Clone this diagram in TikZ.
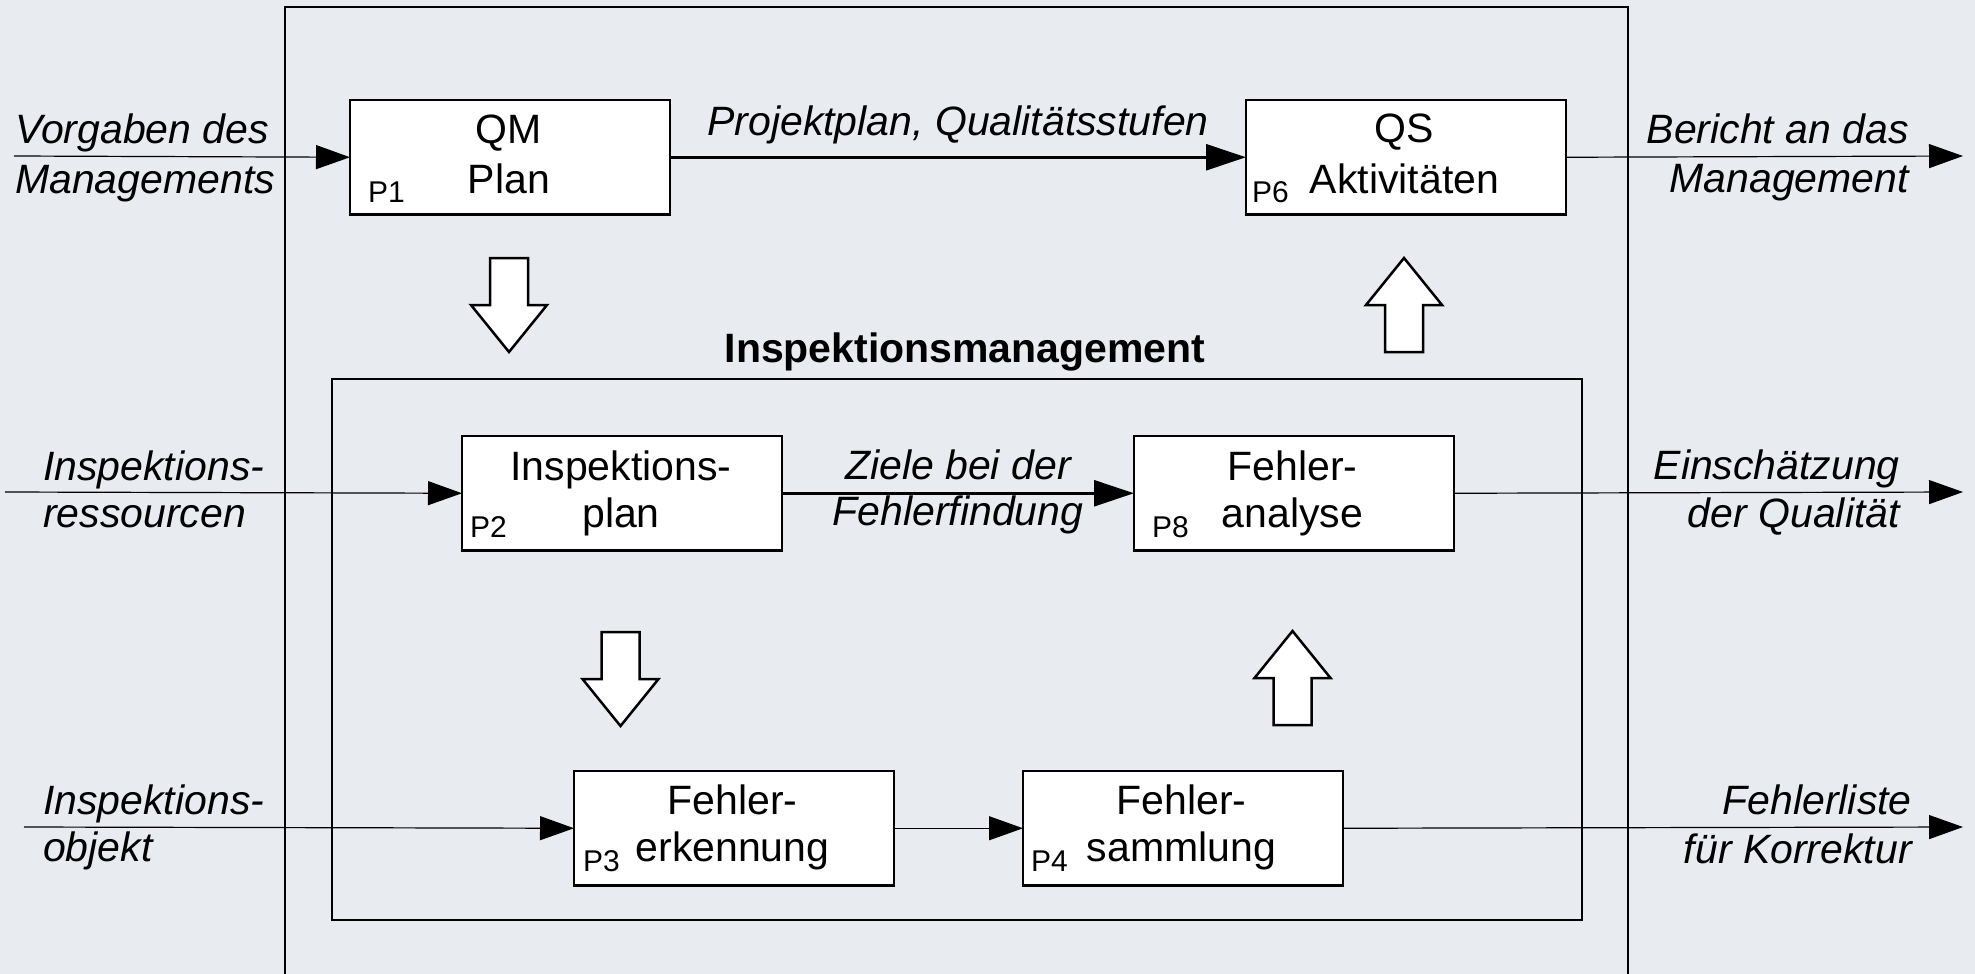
\documentclass[tikz,border=0pt]{standalone}
\usepackage{fontspec}
\setmainfont{Liberation Sans}
\usetikzlibrary{arrows.meta,calc}
\definecolor{bgc}{RGB}{232,236,241}
\begin{document}
\begin{tikzpicture}[x=1pt,y=-1pt,
  box/.style={draw,line width=2.5pt,fill=white,minimum width=317.5pt,minimum height=112pt,inner sep=0pt,anchor=north west},
  frame/.style={draw,line width=2.5pt},
  txt/.style={inner sep=0pt,font=\fontsize{41}{48}\selectfont},
  itxt/.style={inner sep=0pt,font=\fontsize{41}{48}\selectfont\itshape},
  btxt/.style={inner sep=0pt,font=\fontsize{41}{48}\selectfont\bfseries},
  ptxt/.style={inner sep=0pt,font=\fontsize{30}{36}\selectfont,anchor=base west},
  thinarrow/.style={line width=1.2pt,-{Triangle[length=34pt,width=24pt]}},
  thickarrow/.style={line width=2.5pt,-{Triangle[length=40pt,width=26pt]}},
  blk/.style={draw,fill=white,line width=2.5pt,line join=miter},
  downarrow/.pic={\draw[blk] (-19,0) -- (19,0) -- (19,47) -- (38,47) -- (0,94) -- (-38,47) -- (-19,47) -- cycle;},
  uparrow/.pic={\draw[blk] (-19,94) -- (19,94) -- (19,47) -- (38,47) -- (0,0) -- (-38,47) -- (-19,47) -- cycle;}
]
\useasboundingbox (0,0) rectangle (1975,974);
\fill[bgc] (0,0) rectangle (1975,974);

% frames
\draw[frame] (285,985) -- (285,7) -- (1628,7) -- (1628,985);
\draw[frame] (332,379) rectangle (1582,920);
\node[btxt,anchor=base] (title) at (965,362) {Inspektionsmanagement};

% endpoints
\coordinate (i1) at (14,156);
\coordinate (i2) at (5,492);
\coordinate (i3) at (24,827);
\coordinate (o1) at (1963,156);
\coordinate (o2) at (1963,492);
\coordinate (o3) at (1963,827);

% boxes
\node[box] (p1) at (350,100) {};
\node[box] (p6) at (1246,100) {};
\node[box] (p2) at (462,436) {};
\node[box] (p8) at (1134,436) {};
\node[box] (p3) at (574,771) {};
\node[box] (p4) at (1023,771) {};

% connectors
\draw[thinarrow] (i1) -- (p1.west);
\draw[thickarrow] (p1.east) -- (p6.west);
\draw[thinarrow] (p6.east) -- (o1);
\draw[thinarrow] (i2) -- (p2.west);
\draw[thickarrow] (p2.east) -- (p8.west);
\draw[thinarrow] (p8.east) -- (o2);
\draw[thinarrow] (i3) -- (p3.west);
\draw[thinarrow] (p3.east) -- (p4.west);
\draw[thinarrow] (p4.east) -- (o3);

% redraw boxes on top of lines
\foreach \n in {p1,p6,p2,p8,p3,p4}{\draw[line width=2.5pt,fill=white] (\n.north west) rectangle (\n.south east);}

% block arrows
\pic at (509,258) {downarrow};
\pic at (620.5,632) {downarrow};
\pic at (1404,258) {uparrow};
\pic at (1292.5,631) {uparrow};

% box texts
\node[txt,anchor=base] (p1a) at (509,143) {QM};
\node[txt,anchor=base] (p1b) at (509,193) {Plan};
\node[ptxt] (p1l) at (368,202) {P1};
\node[txt,anchor=base] (p6a) at (1404.5,142) {QS};
\node[txt,anchor=base] (p6b) at (1404.5,193) {Aktivitäten};
\node[ptxt] (p6l) at (1252,202) {P6};
\node[txt,anchor=base] (p2a) at (621,480) {Inspektions-};
\node[txt,anchor=base] (p2b) at (621,527) {plan};
\node[ptxt] (p2l) at (470,537) {P2};
\node[txt,anchor=base] (p8a) at (1292.5,480) {Fehler-};
\node[txt,anchor=base] (p8b) at (1292.5,527) {analyse};
\node[ptxt] (p8l) at (1152,537) {P8};
\node[txt,anchor=base] (p3a) at (732.5,814) {Fehler-};
\node[txt,anchor=base] (p3b) at (732.5,861) {erkennung};
\node[ptxt] (p3l) at (583,871) {P3};
\node[txt,anchor=base] (p4a) at (1181.5,814) {Fehler-};
\node[txt,anchor=base] (p4b) at (1181.5,861) {sammlung};
\node[ptxt] (p4l) at (1031,871) {P4};

% outside labels
\node[itxt,anchor=base west] (l1a) at (15,143) {Vorgaben des};
\node[itxt,anchor=base west] (l1b) at (15,193) {Managements};
\node[itxt,anchor=base west] (l2a) at (43,480) {Inspektions-};
\node[itxt,anchor=base west] (l2b) at (43,527) {ressourcen};
\node[itxt,anchor=base west] (l3a) at (43,814) {Inspektions-};
\node[itxt,anchor=base west] (l3b) at (43,861) {objekt};
\node[itxt,anchor=base east] (r1a) at (1909,143) {Bericht an das};
\node[itxt,anchor=base east] (r1b) at (1909,192) {Management};
\node[itxt,anchor=base east] (r2a) at (1900,479) {Einschätzung};
\node[itxt,anchor=base east] (r2b) at (1900,527) {der Qualität};
\node[itxt,anchor=base east] (r3a) at (1912,814) {Fehlerliste};
\node[itxt,anchor=base east] (r3b) at (1912,863) {für Korrektur};
\node[itxt,anchor=base] (c1) at (958,135) {Projektplan, Qualitätsstufen};
\node[itxt,anchor=base] (c2a) at (958,479) {Ziele bei der};
\node[itxt,anchor=base] (c2b) at (958,525) {Fehlerfindung};
\end{tikzpicture}
\end{document}
